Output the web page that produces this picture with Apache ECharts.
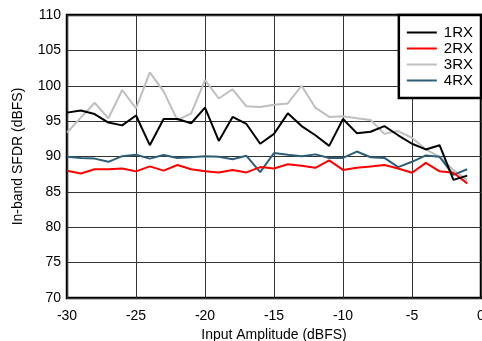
<!DOCTYPE html>
<html><head><meta charset="utf-8">
<script src="https://cdn.jsdelivr.net/npm/echarts@6/dist/echarts.min.js"></script>
<style>html,body{margin:0;padding:0;background:#fff}#c{width:482px;height:341px}</style>
</head><body><div id="c"></div>
<script>
const inputAmplitude = [-30,-29,-28,-27,-26,-25,-24,-23,-22,-21,-20,-19,-18,-17,-16,-15,-14,-13,-12,-11,-10,-9,-8,-7,-6,-5,-4,-3,-2,-1];
const rx1 = [96.2,96.5,96.0,94.8,94.4,95.8,91.6,95.3,95.3,94.7,96.9,92.2,95.6,94.6,91.8,93.2,96.1,94.3,93.0,91.5,95.3,93.3,93.5,94.3,93.0,91.8,91.0,91.6,86.7,87.3];
const rx2 = [88.0,87.6,88.2,88.2,88.3,87.9,88.6,88.0,88.8,88.2,87.9,87.75,88.1,87.75,88.5,88.3,88.9,88.7,88.4,89.45,88.1,88.4,88.6,88.8,88.3,87.7,89.1,87.9,87.7,86.2];
const rx3 = [93.4,95.5,97.6,95.4,99.4,96.8,101.9,99.2,95.15,96.1,100.8,98.2,99.5,97.1,97.0,97.3,97.5,100.0,96.9,95.6,95.7,95.4,95.15,93.2,93.6,92.65,91.0,89.95,88.1,86.7];
const rx4 = [89.95,89.8,89.7,89.25,90.05,90.25,89.7,90.2,89.8,89.9,90.05,89.95,89.6,90.1,87.8,90.5,90.25,90.05,90.3,89.8,89.8,90.7,89.9,89.8,88.5,89.25,90.15,89.95,87.4,88.2];
const seriesNames = ['1RX','2RX','3RX','4RX'];
const seriesColors = ['#000000','#ff0000','#bfbfbf','#2e5f78'];
const seriesData = [rx1, rx2, rx3, rx4];

const chart = echarts.init(document.getElementById('c'), null, {renderer:'canvas'});
const font = 'Liberation Sans, Arial, Helvetica, sans-serif';
chart.setOption({
  animation: false,
  backgroundColor: '#fff',
  grid: {left: 67, right: 1, top: 15, bottom: 43, show: true, borderColor: '#000', borderWidth: 2.5, containLabel: false, outerBoundsMode: 'none'},
  xAxis: {
    type: 'value', min: -30, max: 0, interval: 5,
    name: 'Input Amplitude (dBFS)', nameLocation: 'middle', nameGap: 26,
    nameTextStyle: {fontFamily: font, fontSize: 14, color: '#000'},
    axisLine: {show: false}, axisTick: {show: false},
    axisLabel: {fontFamily: font, fontSize: 14, color: '#000', margin: 11},
    splitLine: {show: true, lineStyle: {color: '#333', width: 1}}
  },
  yAxis: {
    type: 'value', min: 70, max: 110, interval: 5,
    name: 'In-band SFDR (dBFS)', nameLocation: 'middle', nameGap: 42, nameRotate: 90,
    nameTextStyle: {fontFamily: font, fontSize: 14, color: '#000'},
    axisLine: {show: false}, axisTick: {show: false},
    axisLabel: {fontFamily: font, fontSize: 14, color: '#000', margin: 6},
    splitLine: {show: true, lineStyle: {color: '#333', width: 1}}
  },
  legend: {
    orient: 'vertical', right: 1, top: 15,
    backgroundColor: '#fff', borderColor: '#000', borderWidth: 2.5,
    padding: [10, 8, 10, 8], itemGap: 1, itemWidth: 30, itemHeight: 14,
    textStyle: {fontFamily: font, fontSize: 15, color: '#000', padding: [0,0,0,2]},
    data: seriesNames.map((n, i) => ({name: n, icon: 'path://M0,6 L30,6 L30,8 L0,8 Z', itemStyle: {color: seriesColors[i]}}))
  },
  series: seriesData.map((d, i) => ({
    name: seriesNames[i], type: 'line', showSymbol: false, symbol: 'none',
    data: inputAmplitude.map((x, j) => [x, d[j]]),
    lineStyle: {color: seriesColors[i], width: 2},
    itemStyle: {color: seriesColors[i]},
    z: 2 + (i === 0 ? 3 : i === 1 ? 2 : i === 3 ? 1 : 0)
  }))
});
</script></body></html>
